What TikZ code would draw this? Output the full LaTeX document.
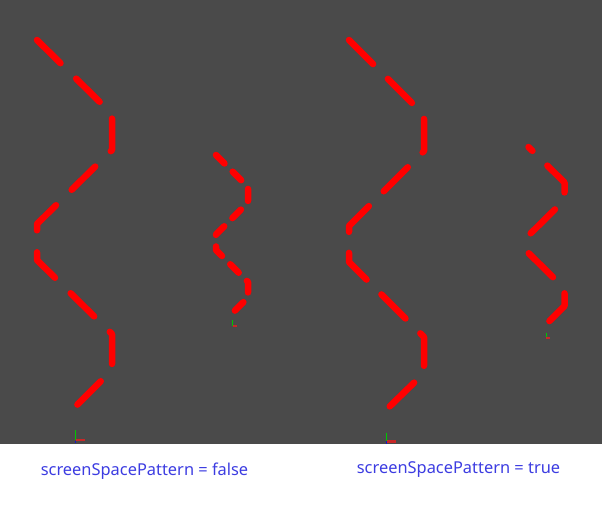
\documentclass[tikz,border=0pt]{standalone}
\usepackage{fontspec}
\setmainfont{Noto Sans}
\definecolor{bg}{RGB}{74,74,74}
\definecolor{lbl}{RGB}{60,60,225}
\definecolor{axg}{RGB}{0,200,0}
\definecolor{axr}{RGB}{200,40,40}
\definecolor{axb}{RGB}{20,20,200}
\begin{document}
\begin{tikzpicture}[x=1pt,y=-1pt,
  zig/.style={draw=red, line width=6.5pt, line cap=round, line join=round},
  bigworld/.style={zig, dash pattern=on 33pt off 22pt},
  bigscreen/.style={zig, dash pattern=on 34pt off 21pt},
  smallworld/.style={zig, dash pattern=on 12pt off 11.6pt},
  smallscreen/.style={zig, dash pattern=on 34pt off 21pt, dash phase=28.5pt},
  lbltext/.style={text=lbl, font=\fontsize{16.4}{19}\selectfont, inner sep=0pt},
  gy/.style={draw=axg, line width=1pt},
  gx/.style={draw=axr, line width=2pt},
  gz/.style={draw=axb, line width=1pt}]
\useasboundingbox (0,0) rectangle (602,504);
\fill[bg] (0,0) rectangle (602,444);
% left big (world space pattern)
\draw[bigworld] (37,40) -- (112,114) -- (112,150) -- (37,224) -- (37,260) -- (112,334) -- (112,370) -- (75,407);
% left small (world space pattern, scaled)
\draw[smallworld] (216,155) -- (248,187) -- (248,202.5) -- (216,234.5) -- (216,250) -- (248,282) -- (248,297.5) -- (232,313.5);
% right big (screen space pattern)
\draw[bigscreen] (349,40) -- (424,115) -- (424,151) -- (349,226) -- (349,262) -- (424,337) -- (424,373) -- (386,410);
% right small (screen space pattern)
\draw[smallscreen] (528.5,147) -- (564.5,182.5) -- (564.5,200) -- (528.5,235.5) -- (528.5,253) -- (564.5,288.5) -- (564.5,306) -- (546.5,324);
% axis gizmos
\draw[gy] (75.5,430) -- (75.5,440);
\draw[gx] (75.5,439.5) -- (85,439.5);
\draw[gz] (75.5,440.5) -- (75.5,443);
\draw[gy] (232.5,320) -- (232.5,326);
\draw[gx, line width=1.2pt] (232.5,326) -- (237,326);
\draw[gy] (386.5,432.5) -- (386.5,441);
\draw[gx, line width=3pt] (387,441.5) -- (396,441.5);
\draw[gz] (386.5,441) -- (386.5,444);
\draw[gy] (546,333) -- (546,338);
\draw[gx, line width=1.2pt] (546,338) -- (550,338);
% labels
\node[lbltext] (lfalse) at (144.5,471) {screenSpacePattern = false};
\node[lbltext] (ltrue) at (458.5,470) {screenSpacePattern = true};
\end{tikzpicture}
\end{document}
